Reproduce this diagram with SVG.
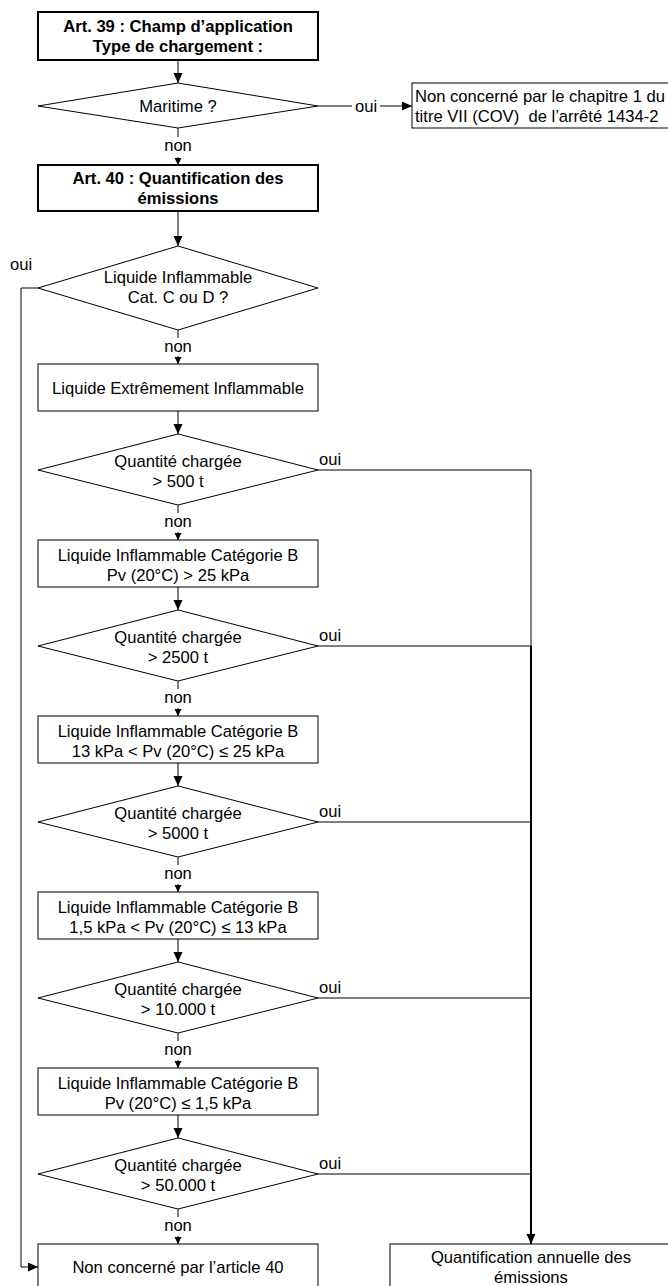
<svg xmlns="http://www.w3.org/2000/svg" width="668" height="1286" viewBox="0 0 668 1286">
<defs>
<style>
.t{font-family:"Liberation Sans",Arial,sans-serif;font-size:16.6px;fill:#000;text-anchor:middle}
.b{font-weight:bold}
.s{text-anchor:start}
.box{fill:#fff;stroke:#000;stroke-width:1}
.bold{fill:#fff;stroke:#000;stroke-width:2}
.dia{fill:#fff;stroke:#000;stroke-width:1}
.ln{fill:none;stroke:#000;stroke-width:1}
.lnb{fill:none;stroke:#000;stroke-width:2}
</style>
<marker id="ah" markerUnits="userSpaceOnUse" markerWidth="10" markerHeight="10" refX="10" refY="4.5" orient="auto">
<path d="M0,0 L10,4.5 L0,9 z" fill="#000"/>
</marker>
<marker id="as" markerUnits="userSpaceOnUse" markerWidth="8" markerHeight="8" refX="7" refY="3.5" orient="auto">
<path d="M0,0 L7,3.5 L0,7 z" fill="#000"/>
</marker>
</defs>
<rect width="668" height="1286" fill="#fff"/>

<g id="connectors">
<!-- top -->
<line class="ln" x1="178" y1="60" x2="178" y2="83" marker-end="url(#ah)"/>
<line class="ln" x1="318" y1="106" x2="352" y2="106"/>
<line class="ln" x1="380" y1="106" x2="412" y2="106" marker-end="url(#ah)"/>
<line class="ln" x1="178" y1="128" x2="178" y2="137"/>
<line class="ln" x1="178" y1="157" x2="178" y2="165" marker-end="url(#as)"/>
<line class="ln" x1="178" y1="211" x2="178" y2="246" marker-end="url(#ah)"/>
<!-- liquide C/D -->
<polyline class="ln" points="38,288 21,288 21,1267 38,1267" marker-end="url(#ah)"/>
<line class="ln" x1="178" y1="330" x2="178" y2="338"/>
<line class="ln" x1="178" y1="356" x2="178" y2="364" marker-end="url(#as)"/>
<line class="ln" x1="178" y1="411" x2="178" y2="434" marker-end="url(#ah)"/>
<!-- q1 -->
<line class="ln" x1="318" y1="470" x2="531" y2="470"/>
<line class="ln" x1="531" y1="470" x2="531" y2="646"/>
<line class="ln" x1="178" y1="505" x2="178" y2="513"/>
<line class="ln" x1="178" y1="532" x2="178" y2="540" marker-end="url(#as)"/>
<line class="ln" x1="178" y1="587" x2="178" y2="610" marker-end="url(#ah)"/>
<!-- q2 -->
<line class="ln" x1="318" y1="646" x2="531" y2="646"/>
<line class="ln" x1="178" y1="681" x2="178" y2="689"/>
<line class="ln" x1="178" y1="708" x2="178" y2="716" marker-end="url(#as)"/>
<line class="ln" x1="178" y1="763" x2="178" y2="786" marker-end="url(#ah)"/>
<!-- q3 -->
<line class="ln" x1="318" y1="822" x2="531" y2="822"/>
<line class="ln" x1="178" y1="857" x2="178" y2="865"/>
<line class="ln" x1="178" y1="884" x2="178" y2="892" marker-end="url(#as)"/>
<line class="ln" x1="178" y1="939" x2="178" y2="962" marker-end="url(#ah)"/>
<!-- q4 -->
<line class="ln" x1="318" y1="998" x2="531" y2="998"/>
<line class="ln" x1="178" y1="1033" x2="178" y2="1041"/>
<line class="ln" x1="178" y1="1060" x2="178" y2="1068" marker-end="url(#as)"/>
<line class="ln" x1="178" y1="1115" x2="178" y2="1138" marker-end="url(#ah)"/>
<!-- q5 -->
<line class="ln" x1="318" y1="1174" x2="531" y2="1174"/>
<line class="ln" x1="178" y1="1209" x2="178" y2="1217"/>
<line class="ln" x1="178" y1="1236" x2="178" y2="1244" marker-end="url(#as)"/>
<!-- main right vertical -->
<line class="lnb" x1="531" y1="646" x2="531" y2="1244" marker-end="url(#ah)"/>
<!-- labels -->
<text class="t" x="366" y="112">oui</text>
<text class="t" x="178" y="151">non</text>
<text class="t" x="21" y="270">oui</text>
<text class="t" x="178" y="352">non</text>
<text class="t s" x="319" y="465">oui</text>
<text class="t" x="178" y="527">non</text>
<text class="t s" x="319" y="641">oui</text>
<text class="t" x="178" y="703">non</text>
<text class="t s" x="319" y="817">oui</text>
<text class="t" x="178" y="879">non</text>
<text class="t s" x="319" y="993">oui</text>
<text class="t" x="178" y="1055">non</text>
<text class="t s" x="319" y="1169">oui</text>
<text class="t" x="178" y="1231">non</text>
</g>

<g id="art39">
<rect class="bold" x="38" y="12" width="280" height="48"/>
<text class="t b" x="178" y="31.5">Art. 39 : Champ d’application</text>
<text class="t b" x="178" y="51.5">Type de chargement :</text>
</g>

<g id="maritime">
<polygon class="dia" points="178,83 318,106 178,128 38,106"/>
<text class="t" x="178" y="112">Maritime ?</text>
</g>

<g id="non-concerne-cov">
<rect class="box" x="412" y="83" width="262" height="45"/>
<text class="t s" x="415" y="101.5">Non concerné par le chapitre 1 du</text>
<text class="t s" x="415" y="121.5" xml:space="preserve">titre VII (COV)  de l’arrêté 1434-2</text>
</g>

<g id="art40">
<rect class="bold" x="38" y="165" width="280" height="46"/>
<text class="t b" x="178" y="184">Art. 40 : Quantification des</text>
<text class="t b" x="178" y="203.5">émissions</text>
</g>

<g id="liquide-cd">
<polygon class="dia" points="178,246 318,288 178,330 38,288"/>
<text class="t" x="178" y="283">Liquide Inflammable</text>
<text class="t" x="178" y="303">Cat. C ou D ?</text>
</g>

<g id="extremement">
<rect class="box" x="38" y="364" width="280" height="47"/>
<text class="t" x="178" y="393.5">Liquide Extrêmement Inflammable</text>
</g>

<g id="q500">
<polygon class="dia" points="178,434 318,470 178,505 38,470"/>
<text class="t" x="178" y="466.5">Quantité chargée</text>
<text class="t" x="178" y="486.5">&gt; 500 t</text>
</g>

<g id="cat-b-25">
<rect class="box" x="38" y="540" width="280" height="47"/>
<text class="t" x="178" y="561">Liquide Inflammable Catégorie B</text>
<text class="t" x="178" y="581">Pv (20°C) &gt; 25 kPa</text>
</g>

<g id="q2500">
<polygon class="dia" points="178,610 318,646 178,681 38,646"/>
<text class="t" x="178" y="642.5">Quantité chargée</text>
<text class="t" x="178" y="662.5">&gt; 2500 t</text>
</g>

<g id="cat-b-13-25">
<rect class="box" x="38" y="716" width="280" height="47"/>
<text class="t" x="178" y="737">Liquide Inflammable Catégorie B</text>
<text class="t" x="178" y="757">13 kPa &lt; Pv (20°C) ≤ 25 kPa</text>
</g>

<g id="q5000">
<polygon class="dia" points="178,786 318,822 178,857 38,822"/>
<text class="t" x="178" y="818.5">Quantité chargée</text>
<text class="t" x="178" y="838.5">&gt; 5000 t</text>
</g>

<g id="cat-b-1-5-13">
<rect class="box" x="38" y="892" width="280" height="47"/>
<text class="t" x="178" y="913">Liquide Inflammable Catégorie B</text>
<text class="t" x="178" y="933">1,5 kPa &lt; Pv (20°C) ≤ 13 kPa</text>
</g>

<g id="q10000">
<polygon class="dia" points="178,962 318,998 178,1033 38,998"/>
<text class="t" x="178" y="994.5">Quantité chargée</text>
<text class="t" x="178" y="1014.5">&gt; 10.000 t</text>
</g>

<g id="cat-b-1-5">
<rect class="box" x="38" y="1068" width="280" height="47"/>
<text class="t" x="178" y="1089">Liquide Inflammable Catégorie B</text>
<text class="t" x="178" y="1109">Pv (20°C) ≤ 1,5 kPa</text>
</g>

<g id="q50000">
<polygon class="dia" points="178,1138 318,1174 178,1209 38,1174"/>
<text class="t" x="178" y="1170.5">Quantité chargée</text>
<text class="t" x="178" y="1190.5">&gt; 50.000 t</text>
</g>

<g id="non-concerne-art40">
<rect class="box" x="38" y="1244" width="280" height="60"/>
<text class="t" x="178" y="1273">Non concerné par l’article 40</text>
</g>

<g id="quantification">
<rect class="box" x="390" y="1244" width="290" height="60"/>
<text class="t" x="531" y="1263">Quantification annuelle des</text>
<text class="t" x="531" y="1283">émissions</text>
</g>
</svg>
